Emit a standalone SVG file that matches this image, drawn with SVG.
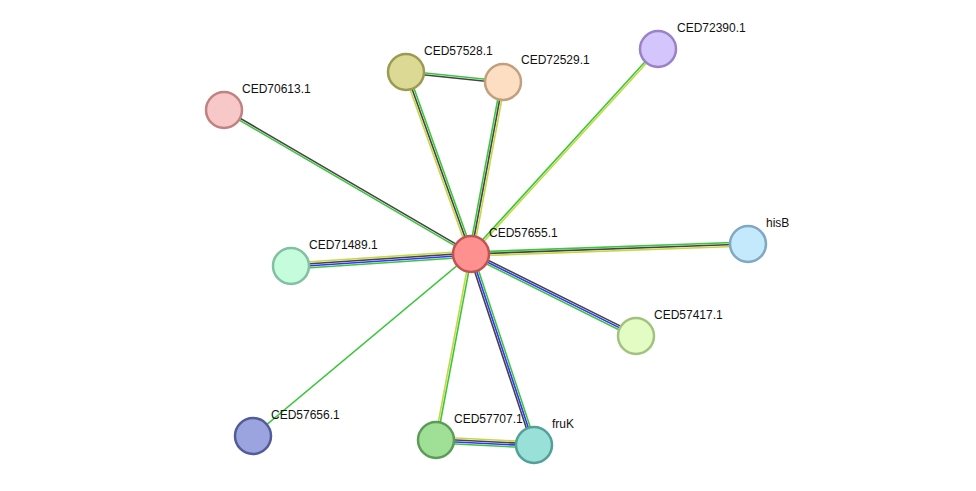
<svg xmlns="http://www.w3.org/2000/svg" width="976" height="491" viewBox="0 0 976 491">
<style>
.e line{stroke-width:1.6;fill:none}
.g{stroke:#3cc63c}.k{stroke:#444}.b{stroke:#3333ff}.y{stroke:#c4d844}
.n circle{stroke-width:2.5}
text{font-family:"Liberation Sans",Arial,sans-serif;font-size:12px;fill:#111}
</style>
<rect width="976" height="491" fill="#fff"/>
<g id="edges" class="e">
<g transform="translate(471,254) rotate(-109.65)"><line class="y" x1="0" y1="-2" x2="193" y2="-2"/><line class="k" x1="0" y1="0" x2="193" y2="0"/><line class="g" x1="0" y1="2" x2="193" y2="2"/></g>
<g transform="translate(471,254) rotate(-79.46)"><line class="g" x1="0" y1="-2" x2="175" y2="-2"/><line class="k" x1="0" y1="0" x2="175" y2="0"/><line class="y" x1="0" y1="2" x2="175" y2="2"/></g>
<g transform="translate(471,254) rotate(-47.63)"><line class="g" x1="0" y1="-1" x2="277" y2="-1"/><line class="y" x1="0" y1="1" x2="277" y2="1"/></g>
<g transform="translate(471,254) rotate(-149.76)"><line class="g" x1="0" y1="-1" x2="286" y2="-1"/><line class="k" x1="0" y1="1" x2="286" y2="1"/></g>
<g transform="translate(471,254) rotate(-2.07)"><line class="g" x1="0" y1="-2" x2="277" y2="-2"/><line class="k" x1="0" y1="0" x2="277" y2="0"/><line class="y" x1="0" y1="2" x2="277" y2="2"/></g>
<g transform="translate(471,254) rotate(176.19)"><line class="y" x1="0" y1="3" x2="180" y2="3"/><line class="k" x1="0" y1="1" x2="180" y2="1"/><line class="b" x1="0" y1="-1" x2="180" y2="-1"/><line class="g" x1="0" y1="-3" x2="180" y2="-3"/></g>
<g transform="translate(471,254) rotate(26.43)"><line class="k" x1="0" y1="-2" x2="184" y2="-2"/><line class="b" x1="0" y1="0" x2="184" y2="0"/><line class="g" x1="0" y1="2" x2="184" y2="2"/></g>
<g transform="translate(471,254) rotate(140.14)"><line class="g" x1="0" y1="0" x2="284" y2="0"/></g>
<g transform="translate(471,254) rotate(100.66)"><line class="y" x1="0" y1="1" x2="189" y2="1"/><line class="g" x1="0" y1="-1" x2="189" y2="-1"/></g>
<g transform="translate(471,254) rotate(71.74)"><line class="k" x1="0" y1="2" x2="201" y2="2"/><line class="b" x1="0" y1="0" x2="201" y2="0"/><line class="g" x1="0" y1="-2" x2="201" y2="-2"/></g>
<g transform="translate(406,72) rotate(5.89)"><line class="g" x1="0" y1="-1" x2="97" y2="-1"/><line class="k" x1="0" y1="1" x2="97" y2="1"/></g>
<g transform="translate(436,440) rotate(2.92)"><line class="y" x1="0" y1="-3" x2="98" y2="-3"/><line class="k" x1="0" y1="-1" x2="98" y2="-1"/><line class="b" x1="0" y1="1" x2="98" y2="1"/><line class="g" x1="0" y1="3" x2="98" y2="3"/></g>
</g>
<g id="CED57528.1" class="n"><circle cx="406" cy="72" r="18" fill="#dcd994" stroke="#9b9a52"/><text x="424" y="55">CED57528.1</text></g>
<g id="CED72529.1" class="n"><circle cx="503" cy="82" r="18" fill="#fddec2" stroke="#c0a07e"/><text x="521" y="64">CED72529.1</text></g>
<g id="CED72390.1" class="n"><circle cx="658" cy="49" r="18" fill="#d4c6fc" stroke="#9a82c8"/><text x="677" y="32">CED72390.1</text></g>
<g id="CED70613.1" class="n"><circle cx="224" cy="110" r="18" fill="#f8c8c8" stroke="#c08282"/><text x="242" y="93">CED70613.1</text></g>
<g id="hisB" class="n"><circle cx="748" cy="244" r="18" fill="#c4e8fc" stroke="#80a8c2"/><text x="766" y="227">hisB</text></g>
<g id="CED71489.1" class="n"><circle cx="291" cy="266" r="18" fill="#c4fcdc" stroke="#82c0a2"/><text x="309" y="249">CED71489.1</text></g>
<g id="CED57417.1" class="n"><circle cx="636" cy="336" r="18" fill="#e2fcc4" stroke="#a2c282"/><text x="654" y="319">CED57417.1</text></g>
<g id="CED57656.1" class="n"><circle cx="253" cy="436" r="18" fill="#9ca4e0" stroke="#525c98"/><text x="271" y="419">CED57656.1</text></g>
<g id="CED57707.1" class="n"><circle cx="436" cy="440" r="18" fill="#a0e096" stroke="#5c9c58"/><text x="454" y="423">CED57707.1</text></g>
<g id="fruK" class="n"><circle cx="534" cy="445" r="18" fill="#98e0d8" stroke="#52a098"/><text x="552" y="428">fruK</text></g>
<g id="CED57655.1" class="n"><circle cx="471" cy="254" r="18" fill="#fe9090" stroke="#c05454"/><text x="489" y="237">CED57655.1</text></g>
</svg>
